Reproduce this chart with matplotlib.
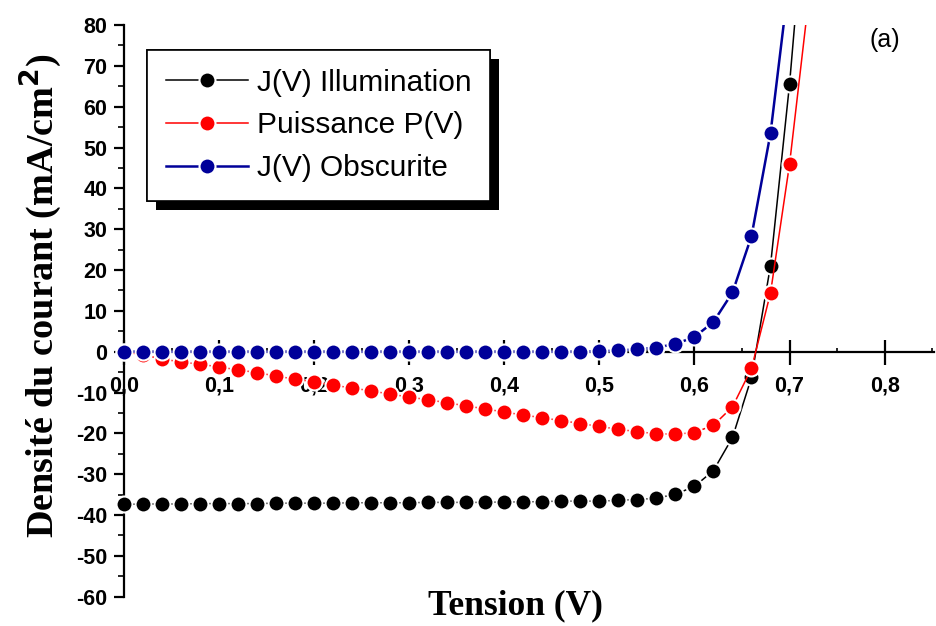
import matplotlib
matplotlib.use("Agg")
import matplotlib.pyplot as plt
from matplotlib.patches import Rectangle
from matplotlib.ticker import MultipleLocator, FixedLocator, FixedFormatter

plt.rcParams['axes.unicode_minus'] = False

# tension (V)
tension = [0.00, 0.02, 0.04, 0.06, 0.08, 0.10, 0.12, 0.14, 0.16, 0.18,
           0.20, 0.22, 0.24, 0.26, 0.28, 0.30, 0.32, 0.34, 0.36, 0.38,
           0.40, 0.42, 0.44, 0.46, 0.48, 0.50, 0.52, 0.54, 0.56, 0.58,
           0.60, 0.62, 0.64, 0.66, 0.68, 0.70, 0.72]

# J(V) sous illumination (mA/cm2)
j_illum = [-37.4, -37.3, -37.3, -37.3, -37.2, -37.2, -37.2, -37.2, -37.1, -37.1,
           -37.1, -37.1, -37.0, -37.0, -37.0, -37.0, -36.9, -36.9, -36.9, -36.9,
           -36.8, -36.8, -36.7, -36.6, -36.6, -36.6, -36.4, -36.2, -35.9, -34.9,
           -33.0, -29.1, -21.0, -6.3, 21.1, 65.5, 120.0]

# puissance P(V)
puissance = [0.0, -0.8, -1.8, -2.5, -3.1, -3.7, -4.5, -5.1, -6.0, -6.7,
             -7.4, -8.2, -8.9, -9.6, -10.4, -11.1, -11.8, -12.5, -13.3, -14.0,
             -14.8, -15.5, -16.2, -16.9, -17.6, -18.3, -19.0, -19.6, -20.1, -20.2,
             -19.8, -18.0, -13.5, -4.1, 14.4, 45.9, 86.0]

# J(V) obscurite
j_obsc = [0.0, 0.0, 0.0, 0.0, 0.0, 0.0, 0.0, 0.0, 0.0, 0.0,
          0.0, 0.0, 0.0, 0.0, 0.0, 0.0, 0.0, 0.0, 0.0, 0.0,
          0.0, 0.0, 0.0, 0.0, 0.0, 0.1, 0.3, 0.6, 1.0, 1.9,
          3.6, 7.3, 14.5, 28.3, 53.5, 92.0, 160.0]

xticks = [0.0, 0.1, 0.2, 0.3, 0.4, 0.5, 0.6, 0.7, 0.8]
xticklabels = ['0,0', '0,1', '0,2', '0,3', '0,4', '0,5', '0,6', '0,7', '0,8']

XMAX = 0.852

fig = plt.figure(figsize=(9.36, 6.26), dpi=100)
ax = fig.add_axes([0.1122, 0.0468, 0.8857, 0.9132])

style = dict(marker='o', markersize=11.5, markeredgecolor='white',
             markeredgewidth=1.5, zorder=3)
ax.plot(tension, j_illum, color='black', lw=1.1, label='J(V) Illumination', **style)
ax.plot(tension, puissance, color='#ff0000', lw=1.1, label='Puissance P(V)', **style)
ax.plot(tension, j_obsc, color='#000099', lw=1.8, label='J(V) Obscurite', **style)

ax.set_xlim(-0.02, XMAX)
ax.set_ylim(-60, 80)

# axes crossing at the origin
for side in ['top', 'right']:
    ax.spines[side].set_visible(False)
ax.spines['left'].set_position(('data', 0))
ax.spines['bottom'].set_position(('data', 0))
ax.spines['bottom'].set_bounds(0, XMAX)
ax.spines['left'].set_linewidth(1.6)
ax.spines['bottom'].set_linewidth(1.6)

ax.xaxis.set_major_locator(FixedLocator(xticks))
ax.xaxis.set_major_formatter(FixedFormatter(xticklabels))
ax.xaxis.set_minor_locator(MultipleLocator(0.05))
ax.yaxis.set_major_locator(MultipleLocator(10))
ax.yaxis.set_minor_locator(MultipleLocator(5))

ax.tick_params(axis='x', which='major', direction='inout', length=18, width=1.6, pad=8)
ax.tick_params(axis='x', which='minor', direction='in', length=3, width=1.2)
ax.tick_params(axis='y', which='major', direction='out', length=7, width=1.6, pad=5)
ax.tick_params(axis='y', which='minor', direction='out', length=4.5, width=1.2)
for lab in ax.get_xticklabels() + ax.get_yticklabels():
    lab.set_fontfamily('Liberation Sans')
    lab.set_fontweight('bold')
    lab.set_fontsize(15.5)

ax.set_xlabel('Tension (V)', family='Liberation Serif', weight='bold', fontsize=25.5)
ax.xaxis.set_label_coords(0.4946, -0.016)
ax.xaxis.label.set_va('center')
ax.set_ylabel('Densité du courant (mA/cm$^\\mathbf{2}$)', family='Liberation Serif',
              weight='bold', fontsize=27.5)
ax.yaxis.set_label_coords(-0.077, 0.527)
ax.yaxis.label.set_va('center')

ax.text(0.80, 76.3, '(a)', family='Liberation Sans', fontsize=18,
        ha='center', va='center')

leg = ax.legend(loc='upper left', bbox_to_anchor=(42 / 829, 1 - 25 / 571.7),
                borderaxespad=0, fancybox=False, frameon=True, framealpha=1,
                edgecolor='black', handlelength=2.75, handletextpad=0.3,
                borderpad=0.62, labelspacing=0.5,
                prop={'family': 'Liberation Sans', 'size': 21.5})
leg.get_frame().set_linewidth(1.2)

# drop shadow behind the legend box
fig.canvas.draw()
bb = leg.get_window_extent().transformed(fig.transFigure.inverted())
dx, dy = 9 / 936, 9 / 626
shadow = Rectangle((bb.x0 + dx, bb.y0 - dy), bb.width, bb.height,
                   transform=fig.transFigure, facecolor='black',
                   edgecolor='none', zorder=4)
fig.add_artist(shadow)
leg.set_zorder(5)
fig.add_artist(leg)

fig.savefig('out.png', dpi=100)
